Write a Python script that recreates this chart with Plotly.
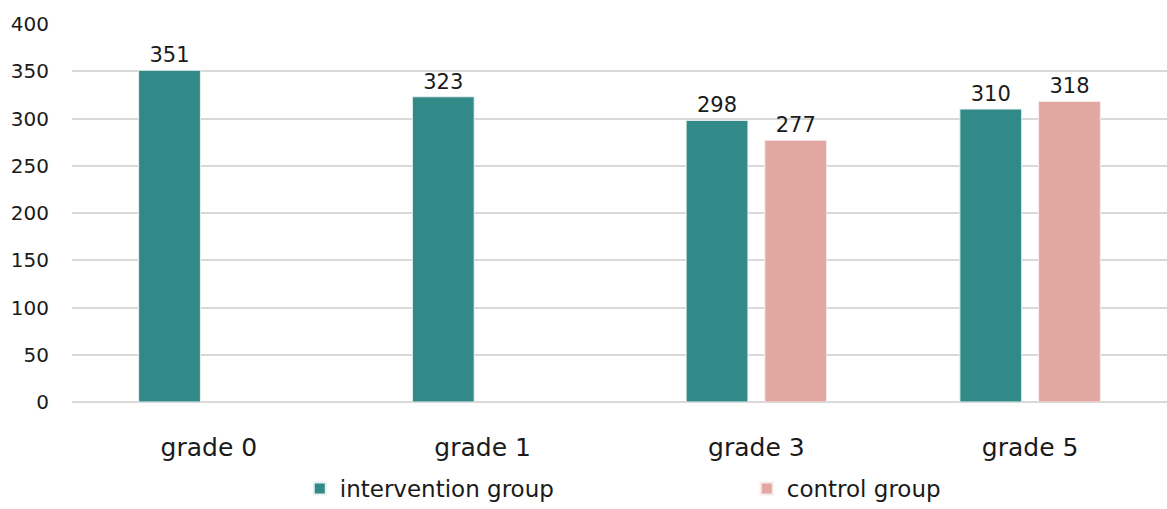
import plotly.graph_objects as go

categories = ["grade 0", "grade 1", "grade 3", "grade 5"]
intervention = [351, 323, 298, 310]
control = [None, None, 277, 318]
y_ticks = [0, 50, 100, 150, 200, 250, 300, 350, 400]

FONT = "DejaVu Sans, sans-serif"
TEXT = "#1a1a1a"

fig = go.Figure()
fig.add_trace(go.Bar(
    name="intervention group", x=categories, y=intervention,
    marker=dict(color="#318A88", line=dict(color="#e6f0ef", width=1)),
    text=[str(v) for v in intervention], textposition="outside",
    textfont=dict(size=21, color=TEXT, family=FONT), cliponaxis=False,
))
fig.add_trace(go.Bar(
    name="control group", x=categories, y=control,
    marker=dict(color="#E2A7A1", line=dict(color="#f7ebe9", width=1)),
    text=["" if v is None else str(v) for v in control], textposition="outside",
    textfont=dict(size=21, color=TEXT, family=FONT), cliponaxis=False,
))

fig.update_layout(
    width=1167, height=509,
    margin=dict(l=72, r=0, t=24, b=107, autoexpand=False),
    paper_bgcolor="white", plot_bgcolor="white",
    font=dict(family=FONT, color=TEXT, size=19),
    barmode="group", bargap=0.425, bargroupgap=0.215,
    showlegend=True,
    legend=dict(
        orientation="h", x=0.208, xanchor="left", y=-0.172, yanchor="top",
        font=dict(size=23, family=FONT, color=TEXT),
        entrywidth=402, entrywidthmode="pixels", itemsizing="constant",
    ),
    xaxis=dict(
        tickfont=dict(size=25, family=FONT, color=TEXT),
        showline=False, showgrid=False, ticks="", ticklabelstandoff=28,
    ),
    yaxis=dict(
        range=[0, 400], tickvals=y_ticks, showgrid=True, gridcolor="#d9d9d9",
        gridwidth=1.5, zeroline=True, zerolinecolor="#d9d9d9", zerolinewidth=1.5,
        tickfont=dict(size=20, family=FONT, color=TEXT), ticklabelstandoff=22,
        showline=False,
    ),
)

fig.write_html("out.html")
